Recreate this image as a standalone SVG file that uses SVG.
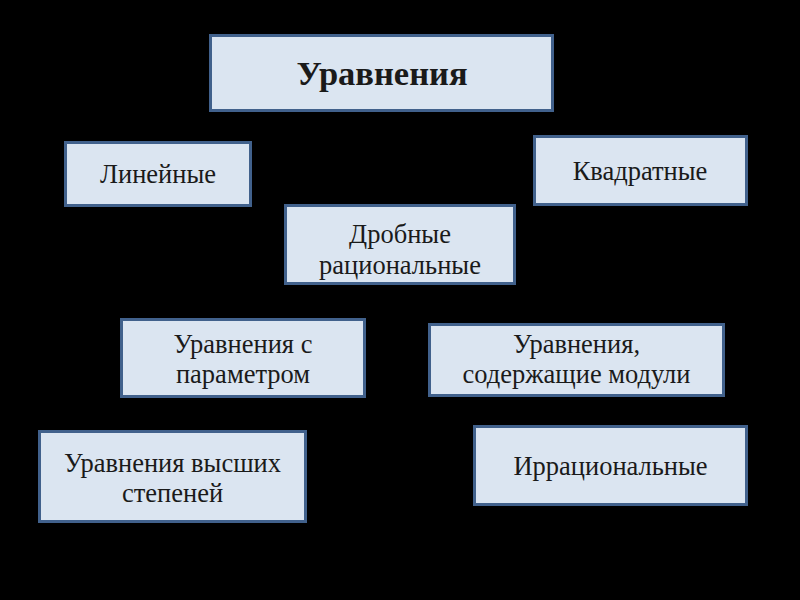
<svg xmlns="http://www.w3.org/2000/svg" width="800" height="600" viewBox="0 0 800 600">
<style>
.box{fill:#dbe5f1;stroke:#41618c;stroke-width:3}
.t{font-family:"Liberation Serif","Times New Roman",serif;font-size:26.5px;fill:#1a1a1a;text-anchor:middle}
.title{font-size:34.5px;font-weight:bold}
</style>
<rect width="800" height="600" fill="#000"/>
<g id="connectors"/>
<g id="n_main"><rect class="box" x="210.5" y="35.5" width="342" height="75"/><text class="t title" x="382" y="85">Уравнения</text></g>
<g id="n_lin"><rect class="box" x="65.5" y="142.5" width="185" height="63"/><text class="t" x="158" y="183">Линейные</text></g>
<g id="n_kv"><rect class="box" x="534.5" y="136.5" width="212" height="68"/><text class="t" x="640" y="180">Квадратные</text></g>
<g id="n_dr"><rect class="box" x="285.5" y="205.5" width="229" height="78"/><text class="t" x="400" y="243">Дробные</text><text class="t" x="400" y="274">рациональные</text></g>
<g id="n_par"><rect class="box" x="121.5" y="319.5" width="243" height="77"/><text class="t" x="243" y="352.5">Уравнения с</text><text class="t" x="243" y="383">параметром</text></g>
<g id="n_mod"><rect class="box" x="429.5" y="324.5" width="294" height="71"/><text class="t" x="576.5" y="352.5">Уравнения,</text><text class="t" x="576.5" y="383">содержащие модули</text></g>
<g id="n_vys"><rect class="box" x="39.5" y="431.5" width="266" height="90"/><text class="t" x="172.5" y="471.5">Уравнения высших</text><text class="t" x="172.5" y="502">степеней</text></g>
<g id="n_irr"><rect class="box" x="474.5" y="426.5" width="272" height="78"/><text class="t" x="610.5" y="475">Иррациональные</text></g>
</svg>
